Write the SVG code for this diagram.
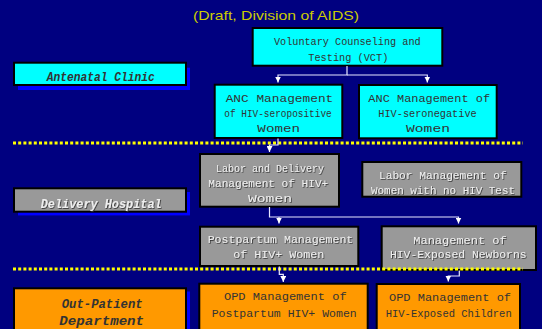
<svg xmlns="http://www.w3.org/2000/svg" width="542" height="329" viewBox="0 0 542 329">
<defs>
<style>
.box{stroke:#000;stroke-width:2}
.cy{fill:#00ffff}
.gr{fill:#999999}
.or{fill:#ff9900}
.sh{fill:#0000ff}
.t{font-family:"Liberation Mono","Courier New",monospace;font-size:11px;text-anchor:middle}
.dk{fill:#333333}
.lt{fill:#eeeeee;filter:url(#emb)}
.lbl{font-family:"Liberation Mono","Courier New",monospace;font-size:12px;font-weight:bold;font-style:italic;text-anchor:middle}
.title{font-family:"Liberation Sans",Arial,sans-serif;font-size:13px;fill:#cccc00;text-anchor:middle}
.con{fill:none;stroke:#e6e6ff;stroke-width:1.2}
.dot{stroke:#ffff00;stroke-width:3;stroke-dasharray:3 2.2}
</style>
<filter id="emb" x="-5%" y="-20%" width="110%" height="140%">
<feDropShadow dx="0.8" dy="0.8" stdDeviation="0" flood-color="#333333"/>
</filter>
<marker id="ah" viewBox="0 0 6 6" refX="6" refY="3" markerWidth="6" markerHeight="6" markerUnits="userSpaceOnUse" orient="auto">
<path d="M0,0 L6,3 L0,6 z" fill="#ffffff"/>
</marker>
</defs>
<rect width="542" height="329" fill="#000080"/>
<text class="title" x="276" y="19.5" textLength="166" lengthAdjust="spacingAndGlyphs">(Draft, Division of AIDS)</text>

<g id="label-antenatal">
<rect class="sh" x="18" y="67.7" width="172" height="22.3"/>
<rect class="box cy" x="14" y="62.7" width="172" height="22.3"/>
<text class="lbl dk" x="100.8" y="80.7" textLength="108" lengthAdjust="spacingAndGlyphs">Antenatal Clinic</text>
</g>
<g id="label-delivery">
<rect class="sh" x="18" y="192" width="172" height="23.4"/>
<rect class="box gr" x="14" y="188.3" width="172" height="23.4"/>
<text class="lbl lt" x="101.2" y="207.5" textLength="121" lengthAdjust="spacingAndGlyphs">Delivery Hospital</text>
</g>
<g id="label-opd">
<rect class="sh" x="18" y="291.5" width="172" height="45"/>
<rect class="box or" x="14" y="288.3" width="172" height="45"/>
<text class="lbl dk" x="102.2" y="307.7" textLength="81" lengthAdjust="spacingAndGlyphs">Out-Patient</text>
<text class="lbl dk" x="101.7" y="325" textLength="84.7" lengthAdjust="spacingAndGlyphs">Department</text>
</g>

<g id="vct">
<rect class="box cy" x="252.7" y="28" width="189.6" height="37.7"/>
<text class="t dk" x="347.3" y="45.3" textLength="146.7" lengthAdjust="spacingAndGlyphs">Voluntary Counseling and</text>
<text class="t dk" x="348.3" y="60.7" textLength="80" lengthAdjust="spacingAndGlyphs">Testing (VCT)</text>
</g>
<g id="anc-pos">
<rect class="box cy" x="214.7" y="84.7" width="127.6" height="53.3"/>
<text class="t dk" x="279.5" y="102" textLength="107.6" lengthAdjust="spacingAndGlyphs">ANC Management</text>
<text class="t dk" x="278" y="117" textLength="107.4" lengthAdjust="spacingAndGlyphs">of HIV-seropositive</text>
<text class="t dk" x="278.7" y="132" textLength="42.7" lengthAdjust="spacingAndGlyphs">Women</text>
</g>
<g id="anc-neg">
<rect class="box cy" x="359" y="85" width="137.7" height="53.3"/>
<text class="t dk" x="429.2" y="101.7" textLength="121.7" lengthAdjust="spacingAndGlyphs">ANC Management of</text>
<text class="t dk" x="427.5" y="116.7" textLength="98.4" lengthAdjust="spacingAndGlyphs">HIV-seronegative</text>
<text class="t dk" x="428" y="132" textLength="44" lengthAdjust="spacingAndGlyphs">Women</text>
</g>
<g id="ld">
<rect class="box gr" x="200" y="154" width="139" height="52.7"/>
<text class="t lt" x="270" y="171.7" textLength="108" lengthAdjust="spacingAndGlyphs">Labor and Delivery</text>
<text class="t lt" x="268.3" y="186.7" textLength="120" lengthAdjust="spacingAndGlyphs">Management of HIV+</text>
<text class="t lt" x="270" y="201.7" textLength="44" lengthAdjust="spacingAndGlyphs">Women</text>
</g>
<g id="labor-notest">
<rect class="box gr" x="362.3" y="162" width="159" height="34.7"/>
<text class="t lt" x="442.8" y="179" textLength="127.7" lengthAdjust="spacingAndGlyphs">Labor Management of</text>
<text class="t lt" x="443" y="194.3" textLength="144" lengthAdjust="spacingAndGlyphs">Women with no HIV Test</text>
</g>
<g id="postpartum">
<rect class="box gr" x="200" y="226.7" width="158.3" height="39.3"/>
<text class="t lt" x="280.5" y="243.3" textLength="145.6" lengthAdjust="spacingAndGlyphs">Postpartum Management</text>
<text class="t lt" x="278.8" y="258.3" textLength="91" lengthAdjust="spacingAndGlyphs">of HIV+ Women</text>
</g>
<g id="newborns">
<rect class="box gr" x="381.7" y="226.3" width="154.3" height="43.7"/>
<text class="t lt" x="460" y="244" textLength="93.4" lengthAdjust="spacingAndGlyphs">Management of</text>
<text class="t lt" x="458.3" y="258.3" textLength="136.7" lengthAdjust="spacingAndGlyphs">HIV-Exposed Newborns</text>
</g>
<g id="opd-postpartum">
<rect class="box or" x="199.3" y="283.7" width="168.4" height="50"/>
<text class="t dk" x="285.3" y="300" textLength="122.7" lengthAdjust="spacingAndGlyphs">OPD Management of</text>
<text class="t dk" x="284.2" y="317.3" textLength="145" lengthAdjust="spacingAndGlyphs">Postpartum HIV+ Women</text>
</g>
<g id="opd-children">
<rect class="box or" x="376.7" y="284" width="143.3" height="50"/>
<text class="t dk" x="450" y="300.7" textLength="122" lengthAdjust="spacingAndGlyphs">OPD Management of</text>
<text class="t dk" x="448.7" y="317.3" textLength="126" lengthAdjust="spacingAndGlyphs">HIV-Exposed Children</text>
</g>

<g id="dividers">
<line class="dot" x1="13" y1="143" x2="523" y2="143"/>
<line class="dot" x1="13" y1="269" x2="523" y2="269"/>
</g>

<g id="connectors">
<path class="con" d="M347,66 V75 H278 V82.5" marker-end="url(#ah)"/>
<path class="con" d="M347,75 H427.3 V82.5" marker-end="url(#ah)"/>
<path class="con" d="M278,138.5 V145 H269.5 V152" marker-end="url(#ah)"/>
<path class="con" d="M269.5,207 V217 H458.5 V223.5" marker-end="url(#ah)"/>
<path class="con" d="M279,217 V223.5" marker-end="url(#ah)"/>
<path class="con" d="M279.3,266.5 V274.3 H283.3 V282" marker-end="url(#ah)"/>
<path class="con" d="M459.3,270.5 V276 H448.3 V281.5" marker-end="url(#ah)"/>
</g>
</svg>
